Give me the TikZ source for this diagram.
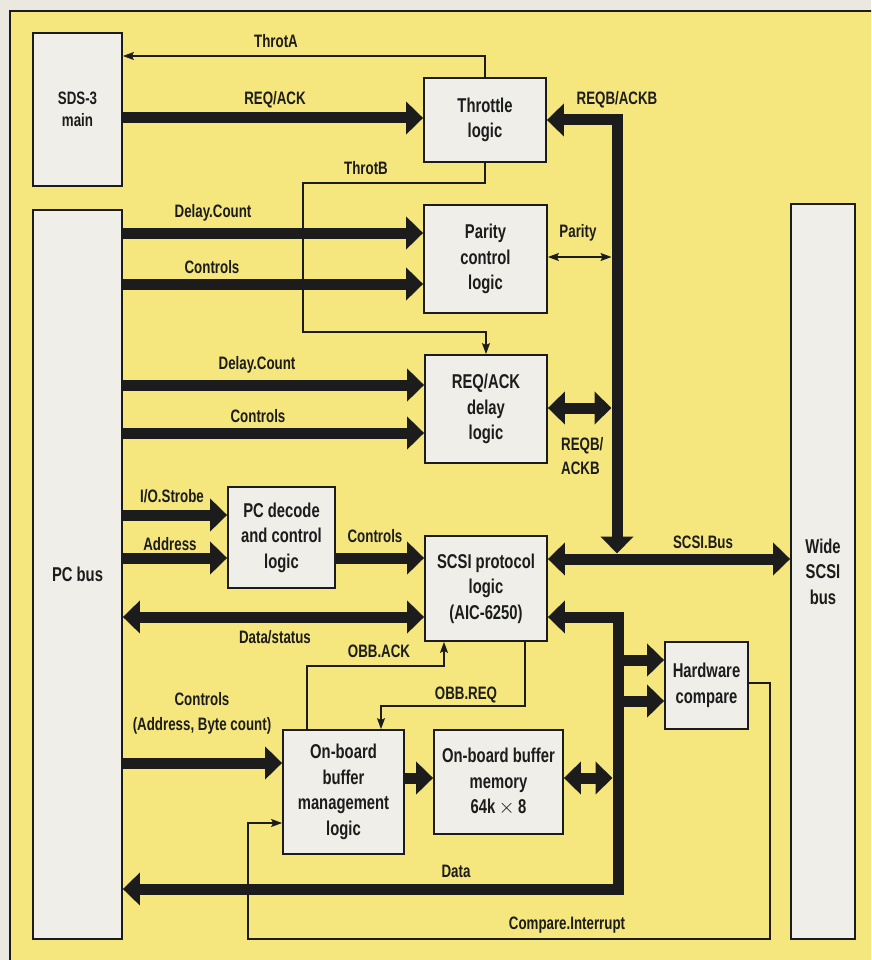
\documentclass[tikz,border=0pt]{standalone}
\usepackage{fontspec}
\setmainfont{Liberation Sans}[FakeStretch=0.74]
\usetikzlibrary{arrows.meta}
\definecolor{paper}{RGB}{245,231,125}
\definecolor{boxfill}{RGB}{239,238,232}
\definecolor{outside}{RGB}{234,232,223}
\definecolor{ink}{RGB}{28,28,28}
\newcommand\lblfont{\bfseries\fontsize{18}{22}\selectfont}
\newcommand\boxfont{\bfseries\fontsize{20}{25.5}\selectfont}
\begin{document}
\begin{tikzpicture}[x=1pt,y=-1pt,
  box/.style={draw=ink, line width=1.8pt, fill=boxfill, inner sep=0pt, align=center, font=\boxfont, text=ink},
  lbl/.style={anchor=base, inner sep=0pt, font=\lblfont, text=ink},
  BigT/.tip={Triangle[length=17pt,width=32pt]},
  SmT/.tip={Stealth[length=11pt,width=8pt,inset=2pt]},
  bus/.style={draw=ink, line width=11pt},
  sig/.style={draw=ink, line width=1.4pt},
]
\useasboundingbox (0,0) rectangle (871,960);
\fill[outside] (0,0) rectangle (871,960);
\begin{scope}
\clip (0,0) rectangle (871,960);
\filldraw[fill=paper, draw=ink, line width=1.6pt] (10,11) rectangle (885,975);
\end{scope}

% boxes
\node[box, font=\lblfont, minimum width=89pt, minimum height=153pt] (sds) at (77.5,109.5) {SDS-3\\main};
\node[box, minimum width=89pt, minimum height=729pt] (pcbus) at (77.5,574.5) {PC bus};
\node[box, minimum width=122pt, minimum height=84pt] (throttle) at (485,120) {Throttle\\logic};
\node[box, minimum width=123pt, minimum height=108pt] (parity) at (485.5,259) {Parity\\control\\logic};
\node[box, minimum width=122pt, minimum height=108pt] (reqack) at (486,409) {REQ/ACK\\delay\\logic};
\node[box, minimum width=122pt, minimum height=105pt] (scsi) at (486,588.5) {SCSI protocol\\logic\\(AIC-6250)};
\node[box, minimum width=107pt, minimum height=101pt] (pcdec) at (281.5,537.5) {PC decode\\and control\\logic};
\node[box, minimum width=64pt, minimum height=735pt] (wide) at (823,571.5) {Wide\\SCSI\\bus};
\node[box, minimum width=83pt, minimum height=87pt] (hw) at (706.5,685.5) {Hardware\\compare};
\node[box, minimum width=129pt, minimum height=104pt] (mem) at (498.5,782) {On-board buffer\\memory\\64k\,$\times$\,8};
\node[box, minimum width=121pt, minimum height=124pt] (mgmt) at (343.5,792) {On-board\\buffer\\management\\logic};

\coordinate (ubus) at (617,559);
\coordinate (lbus) at (618,889);

% thick buses
\draw[bus, -{BigT}] (sds.east |- 0,118) -- (throttle.west |- 0,118);
\draw[bus, -{BigT}] (pcbus.east |- 0,233) -- (parity.west |- 0,233);
\draw[bus, -{BigT}] (pcbus.east |- 0,284) -- (parity.west |- 0,284);
\draw[bus, -{BigT}] (pcbus.east |- 0,385) -- (reqack.west |- 0,385);
\draw[bus, -{BigT}] (pcbus.east |- 0,433) -- (reqack.west |- 0,433);
\draw[bus, -{BigT}] (pcbus.east |- 0,515) -- (pcdec.west |- 0,515);
\draw[bus, -{BigT}] (pcbus.east |- 0,558) -- (pcdec.west |- 0,558);
\draw[bus, -{BigT}] (pcdec.east |- 0,558) -- (scsi.west |- 0,558);
\draw[bus, {BigT}-{BigT}] (pcbus.east |- 0,617) -- (scsi.west |- 0,617);
\draw[bus, -{BigT}] (pcbus.east |- 0,763) -- (mgmt.west |- 0,763);
\draw[bus, -{BigT}] (mgmt.east |- 0,778) -- (mem.west |- 0,778);

\draw[bus, {BigT}-{BigT}] (throttle.east |- 0,120) -- (ubus |- 0,120) -- ([yshift=5.5pt]ubus);
\draw[bus, {BigT}-{BigT}] (reqack.east |- 0,408) -- (611.5,408);
\draw[bus, {BigT}-{BigT}] (scsi.east |- ubus) -- (wide.west |- ubus);

\draw[bus, {BigT}-{BigT}] (scsi.east |- 0,617) -- (lbus |- 0,617) -- (lbus) -- (pcbus.east |- lbus);
\draw[bus, {BigT}-{BigT}] (mem.east |- 0,778) -- (612.5,778);
\draw[bus, -{BigT}] (lbus |- 0,660) -- (hw.west |- 0,660);
\draw[bus, -{BigT}] (lbus |- 0,701) -- (hw.west |- 0,701);

% thin signals
\draw[sig, -{SmT}] (throttle.north) |- (sds.east |- 0,56);
\draw[sig, -{SmT}] (throttle.south) |- (303,183) |- (reqack.north |- 0,332) -- (reqack.north);
\draw[sig, {SmT}-{SmT}] (parity.east |- 0,257) -- (611.5,257);
\draw[sig, -{SmT}] (mgmt.north -| 307,0) |- (444,666) -- (scsi.south -| 444,0);
\draw[sig, -{SmT}] (scsi.south -| 525,0) |- (381,706) -- (mgmt.north -| 381,0);
\draw[sig, -{SmT}] (hw.east |- 0,683) -- (770,683) -- (770,939) -- (248,939) -- (248,823) -- (mgmt.west |- 0,823);

% labels
\node[lbl] (lThrotA) at (276,48) {ThrotA};
\node[lbl] (lReqAck) at (275,105) {REQ/ACK};
\node[lbl] (lThrotB) at (366,175) {ThrotB};
\node[lbl] (lDC1) at (213,217) {Delay.Count};
\node[lbl] (lC1) at (212,273) {Controls};
\node[lbl] (lDC2) at (257,369) {Delay.Count};
\node[lbl] (lC2) at (258,422) {Controls};
\node[lbl] (lIO) at (172,502) {I/O.Strobe};
\node[lbl] (lAddr) at (170,550) {Address};
\node[lbl] (lC3) at (375,542) {Controls};
\node[lbl] (lDS) at (275,643) {Data/status};
\node[lbl] (lOA) at (379,657) {OBB.ACK};
\node[lbl] (lOR) at (466,699) {OBB.REQ};
\node[lbl] (lC4) at (202,705) {Controls};
\node[lbl] (lAB) at (202,730) {(Address, Byte count)};
\node[lbl] (lData) at (456,877) {Data};
\node[lbl] (lCI) at (567,929) {Compare.Interrupt};
\node[lbl] (lRB) at (617,105) {REQB/ACKB};
\node[lbl] (lPar) at (578,237) {Parity};
\node[lbl, anchor=base west] (lRB1) at (561,450) {REQB/};
\node[lbl, anchor=base west] (lRB2) at (561,474) {ACKB};
\node[lbl] (lSB) at (703,548) {SCSI.Bus};
\end{tikzpicture}
\end{document}
